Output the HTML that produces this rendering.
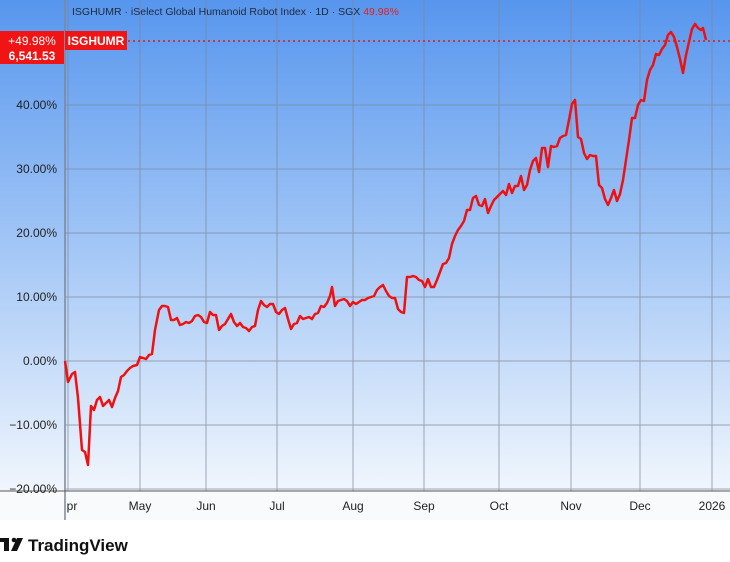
<!DOCTYPE html>
<html><head><meta charset="utf-8"><style>
body{margin:0;width:730px;height:557px;overflow:hidden;background:#fff;font-family:"Liberation Sans","DejaVu Sans",sans-serif}
</style></head><body>
<svg width="730" height="557" viewBox="0 0 730 557" xmlns="http://www.w3.org/2000/svg">
<defs><linearGradient id="bg" x1="0" y1="0" x2="0" y2="1">
<stop offset="0" stop-color="#5796ee"/><stop offset="0.5" stop-color="#a2c6f6"/><stop offset="1" stop-color="#f1f6fd"/></linearGradient></defs>
<rect x="0" y="0" width="730" height="491" fill="url(#bg)"/>
<rect x="0" y="491" width="730" height="29" fill="#f9fafc"/>
<g stroke="#7d8797" stroke-width="1" opacity="0.7">
<line x1="68" y1="0" x2="68" y2="491"/><line x1="140" y1="0" x2="140" y2="491"/><line x1="206" y1="0" x2="206" y2="491"/><line x1="277" y1="0" x2="277" y2="491"/><line x1="353" y1="0" x2="353" y2="491"/><line x1="424" y1="0" x2="424" y2="491"/><line x1="499" y1="0" x2="499" y2="491"/><line x1="571" y1="0" x2="571" y2="491"/><line x1="640" y1="0" x2="640" y2="491"/><line x1="712" y1="0" x2="712" y2="491"/>
<line x1="65" y1="105" x2="730" y2="105"/><line x1="65" y1="169" x2="730" y2="169"/><line x1="65" y1="233" x2="730" y2="233"/><line x1="65" y1="297" x2="730" y2="297"/><line x1="65" y1="361" x2="730" y2="361"/><line x1="65" y1="425" x2="730" y2="425"/><line x1="65" y1="489" x2="730" y2="489"/>
</g>
<line x1="65" y1="0" x2="65" y2="520" stroke="#7d8797" stroke-width="1.5"/>
<line x1="0" y1="491" x2="730" y2="491" stroke="#555" stroke-width="1"/>
<g font-size="12" fill="#222" text-anchor="end">
<text x="57" y="109">40.00%</text><text x="57" y="173">30.00%</text><text x="57" y="237">20.00%</text><text x="57" y="301">10.00%</text><text x="57" y="365">0.00%</text><text x="57" y="429">−10.00%</text><text x="57" y="493">−20.00%</text>
</g>
<g font-size="12" fill="#222" text-anchor="middle">
<text x="72" y="510">pr</text><text x="140" y="510">May</text><text x="206" y="510">Jun</text><text x="277" y="510">Jul</text><text x="353" y="510">Aug</text><text x="424" y="510">Sep</text><text x="499" y="510">Oct</text><text x="571" y="510">Nov</text><text x="640" y="510">Dec</text><text x="712" y="510">2026</text>
</g>
<line x1="128" y1="41" x2="730" y2="41" stroke="#e01818" stroke-width="1.5" stroke-dasharray="2,3"/>
<polyline fill="none" stroke="#f01010" stroke-width="2.5" stroke-linejoin="round" points="65,361 68,382 72,374 75,372 78,398 82,450 85,452 88,465 91,406 94,410 97,400 100,397 103,406 106,403 109,400 112,407 115,398 118,391 121,377 124,375 127,371 130,368 133,366 137,365 140,357 143,358 146,359 149,355 152,354 155,330 159,310 162,306 165,306 168,307 171,320 174,320 177,318 180,325 183,324 186,322 189,323 192,321 195,316 198,315 201,317 204,322 207,323 210,312 213,315 216,315 219,330 222,326 225,324 228,319 231,314 234,322 237,326 240,323 243,327 246,328 249,331 252,327 255,326 258,310 261,301 264,305 267,307 270,304 273,304 276,312 279,314 282,310 285,308 288,319 291,329 294,324 297,323 300,316 303,319 306,318 309,317 312,319 315,314 318,313 321,306 324,307 327,303 330,296 332,287 335,306 338,301 341,300 344,299 347,301 350,306 353,302 356,304 359,302 362,300 365,300 368,298 371,297 374,296 377,290 380,287 383,285 386,291 389,296 392,298 395,298 398,309 401,312 404,313 407,277 410,277 413,276 416,277 419,280 422,281 425,287 428,279 431,287 434,287 437,280 440,272 443,264 446,263 449,258 452,244 455,236 458,230 461,226 464,221 467,210 470,210 473,198 476,196 479,205 482,206 485,199 488,213 491,206 494,200 497,197 500,194 503,191 506,195 509,184 512,193 515,186 518,186 521,176 524,190 527,185 530,170 533,161 536,158 539,172 542,148 545,148 548,167 551,146 554,147 557,146 560,138 563,136 566,135 569,120 572,104 575,100 578,137 581,139 584,153 587,159 590,155 593,156 596,156 599,185 602,188 605,199 608,205 611,198 614,190 617,201 620,194 623,180 626,160 629,140 632,118 635,118 638,105 641,100 644,101 647,80 650,70 653,65 656,54 659,55 662,49 665,45 668,35 671,32 674,37 677,47 680,59 683,73 686,55 689,42 692,29 695,24 698,28 701,30 703,28 706,40"/>
<text x="72" y="15" font-size="10.5" fill="#1e2a3c">ISGHUMR · iSelect Global Humanoid Robot Index · 1D · SGX <tspan fill="#e02020">49.98%</tspan></text>
<rect x="0" y="31" width="64" height="33" fill="#f01414"/>
<text x="32" y="45" font-size="12" fill="#fff" text-anchor="middle">+49.98%</text>
<text x="32" y="60" font-size="12" fill="#fff" text-anchor="middle" font-weight="bold">6,541.53</text>
<rect x="65" y="31" width="62" height="19" fill="#f01414"/>
<text x="96" y="45" font-size="12" fill="#fff" text-anchor="middle" font-weight="bold">ISGHUMR</text>
<g fill="#111"><rect x="0" y="538" width="9" height="4"/><rect x="4" y="538" width="5" height="13"/><circle cx="14" cy="540" r="2.3"/><polygon points="17,538 23,538 17,551 11,551"/></g>
<text x="28" y="551" font-size="17" fill="#111" font-weight="bold">TradingView</text>
</svg>
</body></html>
